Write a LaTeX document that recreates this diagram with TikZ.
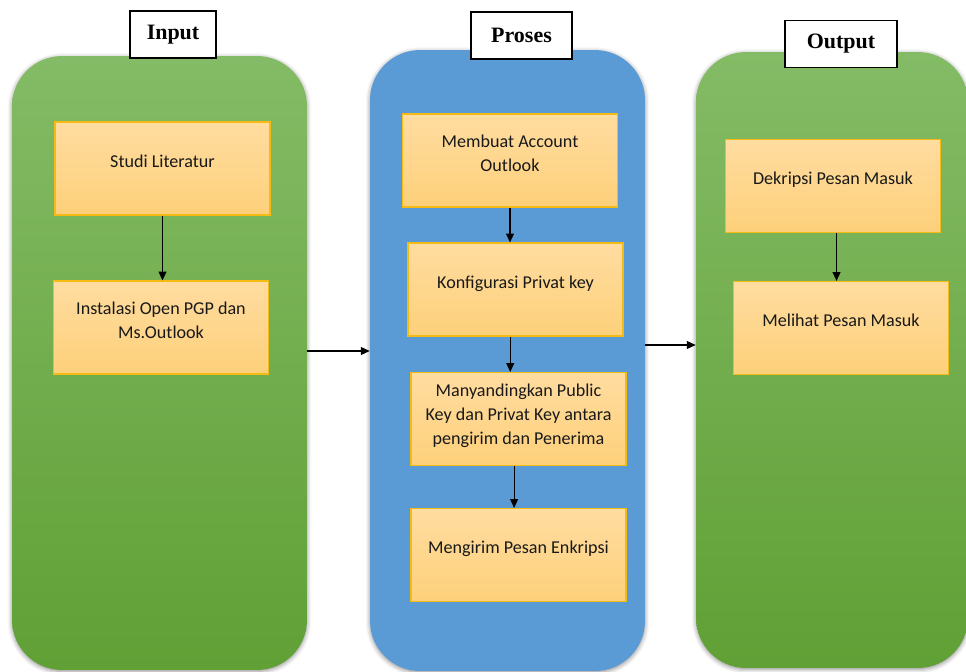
\documentclass[tikz,border=0pt]{standalone}
\usepackage{fontspec}
\setmainfont{Carlito}
\newfontfamily\titlefont{Liberation Serif}
\usetikzlibrary{arrows.meta,shadows.blur}
\definecolor{greentop}{HTML}{84BB66}
\definecolor{greenbot}{HTML}{60A035}
\definecolor{bluepanel}{HTML}{5B9BD5}
\definecolor{boxtop}{HTML}{FFDCA0}
\definecolor{boxbot}{HTML}{FDD07A}
\definecolor{boxline}{HTML}{F5BA14}

\begin{document}
\begin{tikzpicture}[x=0.02cm, y=-0.02cm,
  panel/.style={rounded corners=1cm, draw=none, inner sep=0pt,
    blur shadow={shadow xshift=0pt, shadow yshift=-0.8pt, shadow blur radius=2.5pt, shadow opacity=45}},
  greenpanel/.style={panel, top color=greentop, bottom color=greenbot},
  bluepanel/.style={panel, fill=bluepanel},
  box/.style={draw=boxline, line width=0.7pt, top color=boxtop, bottom color=boxbot,
    minimum width=4.3cm, minimum height=1.86cm, align=center,
    font=\fontsize{10.3}{13.6}\selectfont, text=black!90, text depth=0.3cm},
  title/.style={draw, fill=white, line width=0.6pt, font=\titlefont\bfseries\fontsize{12.5}{14}\selectfont,
    minimum height=0.94cm},
  arr/.style={-{Triangle[length=5pt,width=4.5pt]}, line width=0.6pt}]
\useasboundingbox (0,0) rectangle (966,672);
% Panels
\node[greenpanel, minimum width=5.9cm, minimum height=12.28cm] (inpanel) at (159.5,363) {};
\node[bluepanel, minimum width=5.5cm, minimum height=12.42cm] (procpanel) at (507.5,360.5) {};
\node[greenpanel, minimum width=5.44cm, minimum height=12.32cm] (outpanel) at (832,360) {};
% Titles
\node[title, minimum width=1.72cm] (tin) at (173,34.5) {Input};
\node[title, minimum width=2.02cm] (tproc) at (521.5,35.5) {Proses};
\node[title, minimum width=2.24cm] (tout) at (841,44) {Output};
% Input steps
\node[box] (studi) at (162.5,168.5) {Studi Literatur};
\node[box] (instal) at (161,327.5) {Instalasi Open PGP dan\\ Ms.Outlook};
% Proses steps
\node[box] (akun) at (510,160.5) {Membuat Account\\ Outlook};
\node[box] (konfig) at (515.5,289.5) {Konfigurasi Privat key};
\node[box, text depth=0.18cm] (banding) at (518.5,419) {Manyandingkan Public\\ Key dan Privat Key antara\\ pengirim dan Penerima};
\node[box] (kirim) at (518.5,555) {Mengirim Pesan Enkripsi};
% Output steps
\node[box] (dekrip) at (833,186) {Dekripsi Pesan Masuk};
\node[box] (lihat) at (841,328) {Melihat Pesan Masuk};
% Arrows
\draw[arr] (studi.south) -- (studi.south |- instal.north);
\draw[arr] (akun.south) -- (akun.south |- konfig.north);
\draw[arr] ([xshift=-3pt]konfig.south) -- ([xshift=-3pt]konfig.south |- banding.north);
\draw[arr] ([xshift=-2.5pt]banding.south) -- ([xshift=-2.5pt]banding.south |- kirim.north);
\draw[arr] ([xshift=2pt]dekrip.south) -- ([xshift=2pt]dekrip.south |- lihat.north);
\draw[arr] (inpanel.east |- 0,351) -- (procpanel.west |- 0,351);
\draw[arr] (procpanel.east |- 0,345) -- (outpanel.west |- 0,345);
\end{tikzpicture}
\end{document}
